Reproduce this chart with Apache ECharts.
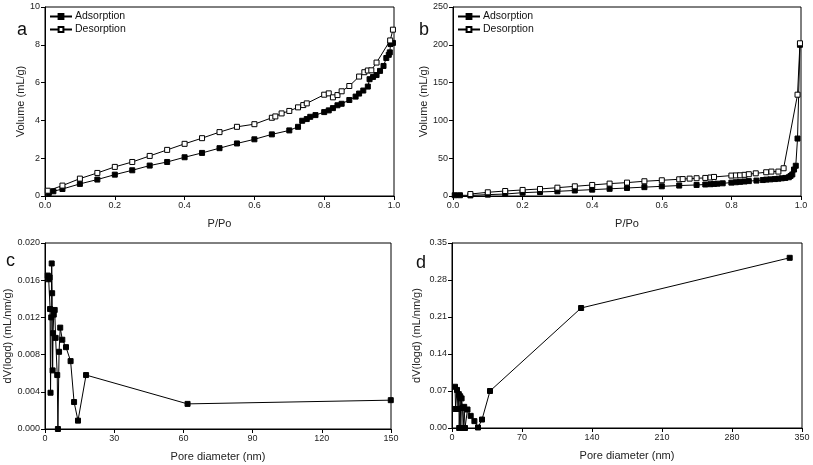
<!DOCTYPE html>
<html><head><meta charset="utf-8">
<script src="https://cdn.jsdelivr.net/npm/echarts@6/dist/echarts.min.js"></script>
<style>html,body{margin:0;padding:0;background:#fff}#c{width:813px;height:465px}</style>
</head><body><div id="c"></div>
<script>
// Panel a
const aAdsX = [0.011,0.024,0.05,0.1,0.15,0.2,0.25,0.3,0.35,0.4,0.45,0.5,0.55,0.6,0.65,0.7,0.725,0.737,0.75,0.76,0.775,0.8,0.813,0.825,0.838,0.85,0.872,0.89,0.9,0.912,0.925,0.93,0.94,0.95,0.96,0.97,0.978,0.985,0.988,0.99,0.997];
const aAdsY = [0.16,0.25,0.37,0.64,0.87,1.13,1.36,1.61,1.8,2.05,2.28,2.53,2.78,3.0,3.26,3.47,3.66,3.98,4.07,4.19,4.28,4.44,4.53,4.65,4.8,4.88,5.08,5.26,5.42,5.58,5.79,6.18,6.3,6.4,6.62,6.88,7.3,7.47,7.6,8.04,8.1];
const aDesX = [0.008,0.05,0.1,0.15,0.2,0.25,0.3,0.35,0.4,0.45,0.5,0.55,0.6,0.65,0.66,0.678,0.7,0.725,0.74,0.75,0.8,0.813,0.825,0.838,0.85,0.872,0.9,0.915,0.925,0.935,0.95,0.989,0.997];
const aDesY = [0.28,0.55,0.92,1.22,1.54,1.8,2.12,2.44,2.76,3.06,3.38,3.66,3.8,4.14,4.21,4.37,4.5,4.69,4.81,4.9,5.36,5.43,5.22,5.34,5.54,5.82,6.32,6.55,6.64,6.65,7.06,8.23,8.8];
// Panel b
const bAdsX = [0.005,0.02,0.05,0.1,0.15,0.2,0.25,0.3,0.35,0.4,0.45,0.5,0.55,0.6,0.65,0.7,0.725,0.74,0.75,0.76,0.775,0.8,0.813,0.825,0.838,0.85,0.872,0.89,0.9,0.912,0.925,0.935,0.945,0.955,0.965,0.97,0.975,0.98,0.985,0.99,0.997];
const bAdsY = [1.0,1.0,0.8,1.8,2.6,4.4,5.3,6.2,7.3,8.4,9.5,10.6,11.7,12.8,13.8,14.6,15.2,15.6,16.0,16.3,16.8,17.7,18.2,18.7,19.2,19.7,20.4,21.1,21.7,22.0,22.4,22.9,23.4,23.9,24.8,26.5,28.5,35,40,76,200];
const bDesX = [0.05,0.1,0.15,0.2,0.25,0.3,0.35,0.4,0.45,0.5,0.55,0.6,0.65,0.66,0.68,0.7,0.725,0.74,0.75,0.8,0.813,0.825,0.838,0.85,0.87,0.9,0.915,0.935,0.95,0.99,0.997];
const bDesY = [2.6,4.9,6.6,8.0,9.3,11.0,12.8,14.6,16.4,17.7,19.5,20.8,22.1,22.4,23.0,23.5,23.9,24.5,25.2,27.0,27.2,27.4,28.0,28.8,30.0,31.4,32.3,32.3,36.7,134,202];
// Panel c
const cX = [1.2,1.6,2.0,2.2,2.4,2.7,2.9,3.1,3.3,3.5,3.8,4.2,4.6,5.3,5.6,6.1,6.6,7.5,9.1,11.1,12.6,14.3,17.8,61.8,149.9];
const cY = [0.0165,0.0161,0.0163,0.0129,0.0039,0.0120,0.0178,0.0146,0.0063,0.0103,0.0123,0.0128,0.0098,0.0058,0.0,0.0083,0.0109,0.0096,0.0088,0.0073,0.0029,0.0009,0.0058,0.0027,0.0031];
// Panel d
const dX = [3.0,3.6,5.0,6.0,6.8,7.2,8.2,8.8,9.6,10.5,11.2,12.2,13.0,15.5,18.7,22.4,26.0,30.0,38.0,129.1,337.7];
const dY = [0.078,0.036,0.072,0.036,0.064,0.0,0.060,0.0,0.056,0.038,0.0,0.040,0.0,0.035,0.023,0.013,0.001,0.016,0.070,0.227,0.322];

const zip = (x, y) => x.map((v, i) => [v, y[i]]);
const FONT = 'Liberation Sans, Arial, sans-serif';
const lbl = {color: '#222', fontSize: 9, fontFamily: FONT, margin: 5};
const nameStyle = {color: '#222', fontSize: 11, fontFamily: FONT};
function xAx(idx, min, max, interval, name, fmt) {
  return {gridIndex: idx, type: 'value', min, max, interval, name, nameLocation: 'middle', nameGap: 22,
    nameTextStyle: nameStyle, axisLine: {show: true, onZero: false, lineStyle: {color: '#000', width: 1}},
    axisTick: {show: true, inside: false, length: 4, lineStyle: {color: '#000'}},
    axisLabel: Object.assign({formatter: fmt}, lbl), splitLine: {show: false}};
}
function yAx(idx, min, max, interval, name, fmt, gap) {
  return {gridIndex: idx, type: 'value', min, max, interval, name, nameLocation: 'middle', nameGap: gap,
    nameTextStyle: nameStyle, axisLine: {show: true, onZero: false, lineStyle: {color: '#000', width: 1}},
    axisTick: {show: true, inside: false, length: 4, lineStyle: {color: '#000'}},
    axisLabel: Object.assign({formatter: fmt}, lbl), splitLine: {show: false}};
}
const filled = (name, data, xi, yi) => ({name, type: 'line', xAxisIndex: xi, yAxisIndex: yi, data,
  symbol: 'rect', symbolSize: 5, showSymbol: true, lineStyle: {color: '#000', width: 1},
  itemStyle: {color: '#000', borderColor: '#000', borderWidth: 1}, animation: false});
const open = (name, data, xi, yi) => ({name, type: 'line', xAxisIndex: xi, yAxisIndex: yi, data,
  symbol: 'rect', symbolSize: 5, showSymbol: true, lineStyle: {color: '#000', width: 1},
  itemStyle: {color: '#fff', borderColor: '#000', borderWidth: 1}, animation: false});

const gridBase = {show: true, borderColor: '#000', borderWidth: 1, backgroundColor: 'transparent', containLabel: false};
const chart = echarts.init(document.getElementById('c'), null, {renderer: 'canvas'});
chart.setOption({
  animation: false,
  backgroundColor: '#fff',
  grid: [
    Object.assign({left: 45, top: 7, width: 349, height: 189}, gridBase),
    Object.assign({left: 453, top: 7, width: 348, height: 189}, gridBase),
    Object.assign({left: 45, top: 243, width: 346, height: 186}, gridBase),
    Object.assign({left: 452, top: 243, width: 350, height: 185}, gridBase)
  ],
  xAxis: [
    xAx(0, 0, 1, 0.2, 'P/Po', v => v.toFixed(1)),
    xAx(1, 0, 1, 0.2, 'P/Po', v => v.toFixed(1)),
    xAx(2, 0, 150, 30, 'Pore diameter (nm)', v => String(v)),
    xAx(3, 0, 350, 70, 'Pore diameter (nm)', v => String(v))
  ],
  yAxis: [
    yAx(0, 0, 10, 2, 'Volume (mL/g)', v => String(v), 19),
    yAx(1, 0, 250, 50, 'Volume (mL/g)', v => String(v), 22),
    yAx(2, 0, 0.02, 0.004, 'dV(logd) (mL/nm/g)', v => v.toFixed(3), 29),
    yAx(3, 0, 0.35, 0.07, 'dV(logd) (mL/nm/g)', v => v.toFixed(2), 30)
  ],
  legend: [
    {left: 49, top: 11, orient: 'vertical', itemWidth: 22, itemHeight: 6, itemGap: 2,
     textStyle: {fontSize: 10.5, fontFamily: FONT, color: '#111', padding: [0, 0, 0, -2]}, data: ['Adsorption', 'Desorption'],
     padding: 0},
    {left: 457, top: 11, orient: 'vertical', itemWidth: 22, itemHeight: 6, itemGap: 2,
     textStyle: {fontSize: 10.5, fontFamily: FONT, color: '#111', padding: [0, 0, 0, -2]}, data: ['Adsorption ', 'Desorption '],
     padding: 0}
  ],
  graphic: [
    {type: 'text', left: 17, top: 21, style: {text: 'a', fontSize: 18, fontFamily: FONT, fill: '#111'}},
    {type: 'text', left: 419, top: 21, style: {text: 'b', fontSize: 18, fontFamily: FONT, fill: '#111'}},
    {type: 'text', left: 6, top: 252, style: {text: 'c', fontSize: 18, fontFamily: FONT, fill: '#111'}},
    {type: 'text', left: 416, top: 254, style: {text: 'd', fontSize: 18, fontFamily: FONT, fill: '#111'}}
  ],
  series: [
    filled('Adsorption', zip(aAdsX, aAdsY), 0, 0),
    open('Desorption', zip(aDesX, aDesY), 0, 0),
    filled('Adsorption ', zip(bAdsX, bAdsY), 1, 1),
    open('Desorption ', zip(bDesX, bDesY), 1, 1),
    filled('c', zip(cX, cY), 2, 2),
    filled('d', zip(dX, dY), 3, 3)
  ]
});
</script></body></html>
